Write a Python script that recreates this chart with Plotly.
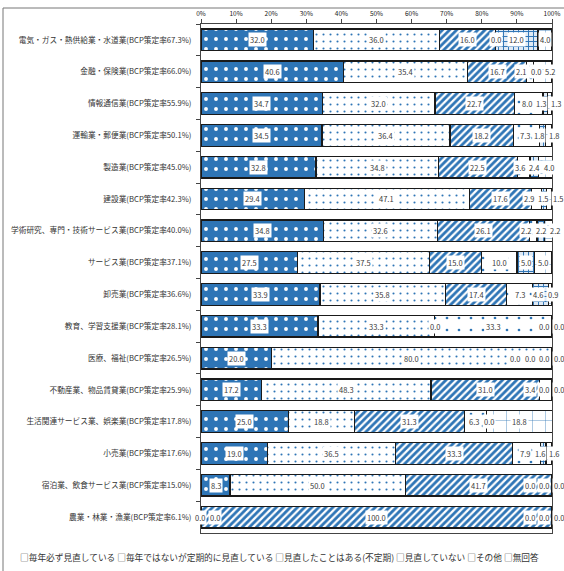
import plotly.graph_objects as go

# ---- data -------------------------------------------------------------
categories = [
    "電気・ガス・熱供給業・水道業(BCP策定率67.3%)",
    "金融・保険業(BCP策定率66.0%)",
    "情報通信業(BCP策定率55.9%)",
    "運輸業・郵便業(BCP策定率50.1%)",
    "製造業(BCP策定率45.0%)",
    "建設業(BCP策定率42.3%)",
    "学術研究、専門・技術サービス業(BCP策定率40.0%)",
    "サービス業(BCP策定率37.1%)",
    "卸売業(BCP策定率36.6%)",
    "教育、学習支援業(BCP策定率28.1%)",
    "医療、福祉(BCP策定率26.5%)",
    "不動産業、物品賃貸業(BCP策定率25.9%)",
    "生活関連サービス業、娯楽業(BCP策定率17.8%)",
    "小売業(BCP策定率17.6%)",
    "宿泊業、飲食サービス業(BCP策定率15.0%)",
    "農業・林業・漁業(BCP策定率6.1%)",
]

series_names = [
    "毎年必ず見直している",
    "毎年ではないが定期的に見直している",
    "見直したことはある(不定期)",
    "見直していない",
    "その他",
    "無回答",
]

every_year = [32.0, 40.6, 34.7, 34.5, 32.8, 29.4, 34.8, 27.5, 33.9, 33.3, 20.0, 17.2, 25.0, 19.0, 8.3, 0.0]
regularly = [36.0, 35.4, 32.0, 36.4, 34.8, 47.1, 32.6, 37.5, 35.8, 33.3, 80.0, 48.3, 18.8, 36.5, 50.0, 0.0]
irregular = [16.0, 16.7, 22.7, 18.2, 22.5, 17.6, 26.1, 15.0, 17.4, 0.0, 0.0, 31.0, 31.3, 33.3, 41.7, 100.0]
not_reviewed = [0.0, 2.1, 8.0, 7.3, 3.6, 2.9, 2.2, 10.0, 7.3, 33.3, 0.0, 3.4, 6.3, 7.9, 0.0, 0.0]
other = [12.0, 0.0, 1.3, 1.8, 2.4, 1.5, 2.2, 5.0, 4.6, 0.0, 0.0, 0.0, 0.0, 1.6, 0.0, 0.0]
no_answer = [4.0, 5.2, 1.3, 1.8, 4.0, 1.5, 2.2, 5.0, 0.9, 0.0, 0.0, 0.0, 18.8, 1.6, 0.0, 0.0]

x_ticks = [0, 10, 20, 30, 40, 50, 60, 70, 80, 90, 100]
x_tick_labels = [f"{t}%" for t in x_ticks]

series_values = [every_year, regularly, irregular, not_reviewed, other, no_answer]

# ---- styling ----------------------------------------------------------
BLUE = "#2E75B6"
FONT = "Noto Sans CJK JP"
W, H = 564, 571
L, R, T, B = 201, 12, 24, 38          # margins in px
PLOT_W = W - L - R
PLOT_H = H - T - B
X_MIN, X_MAX = 0, 100

patterns = [
    dict(shape=".", fgcolor="white", bgcolor=BLUE, size=10, solidity=0.12, fillmode="replace"),
    dict(shape=".", fgcolor=BLUE, bgcolor="white", size=7, solidity=0.07, fillmode="replace"),
    dict(shape="/", fgcolor=BLUE, bgcolor="white", size=5, solidity=0.55, fillmode="replace"),
    dict(shape=".", fgcolor=BLUE, bgcolor="white", size=12, solidity=0.04, fillmode="replace"),
    dict(shape="+", fgcolor=BLUE, bgcolor="#dfeaf5", size=5, solidity=0.35, fillmode="replace"),
    dict(shape="+", fgcolor=BLUE, bgcolor="white", size=13, solidity=0.06, fillmode="replace"),
]

fig = go.Figure()
for name, vals, pat in zip(series_names, series_values, patterns):
    fig.add_trace(go.Bar(
        y=categories, x=vals, name=name, orientation="h",
        marker=dict(color=pat["bgcolor"], pattern=pat,
                    line=dict(color="#1a1a1a", width=1.3)),
        hoverinfo="x+name",
        showlegend=False,
    ))


# ---- value labels (spread apart where they would collide) -------------
PX_PER_UNIT = PLOT_W / (X_MAX - X_MIN)


def label_width(text):
    return (4.3 * (len(text) - 1) + 2 + 3) / PX_PER_UNIT


def spread(anchors, widths, lo, hi, gap):
    pos = list(anchors)
    clusters = [[i] for i in range(len(anchors))]

    def place(cl):
        offs = [0.0]
        for a, b in zip(cl, cl[1:]):
            offs.append(offs[-1] + (widths[a] + widths[b]) / 2 + gap)
        mean_a = sum(anchors[i] for i in cl) / len(cl)
        start = mean_a - sum(offs) / len(offs)
        start = min(start, hi - offs[-1])
        start = max(start, lo)
        for i, o in zip(cl, offs):
            pos[i] = start + o

    for cl in clusters:
        place(cl)
    changed = True
    while changed:
        changed = False
        for k in range(len(clusters) - 1):
            a, b = clusters[k][-1], clusters[k + 1][0]
            if pos[b] - pos[a] < (widths[a] + widths[b]) / 2 + gap - 1e-9:
                clusters[k] = clusters[k] + clusters[k + 1]
                del clusters[k + 1]
                place(clusters[k])
                changed = True
                break
    return pos


def to_paper_x(x):
    # data value on the linear x axis -> paper fraction (labels may sit past 0/100)
    return (x - X_MIN) / (X_MAX - X_MIN)


annotations = []
for r, cat in enumerate(categories):
    vals = [s[r] for s in series_values]
    texts = [f"{v:.1f}" for v in vals]
    anchors, acc = [], 0.0
    for v in vals:
        anchors.append(acc + v / 2)
        acc += v
    widths = [label_width(t) for t in texts]
    xs = spread(anchors, widths, lo=-0.2, hi=102.0, gap=0.3)
    for t, x in zip(texts, xs):
        annotations.append(dict(
            x=to_paper_x(x), y=cat, xref="paper", yref="y", text=t, showarrow=False,
            font=dict(family=FONT, size=7.5, color="#3a3a3a"),
            bgcolor="white", borderpad=1, xanchor="center", yanchor="middle",
        ))


def px_x(px):
    return (px - L) / PLOT_W


def px_y(py):
    return (H - B - py) / PLOT_H


# legend line below the plot
legend_text = " ".join("□" + n for n in series_names)
annotations.append(dict(
    x=px_x(18), y=px_y(557), xref="paper", yref="paper", text=legend_text,
    showarrow=False, xanchor="left", yanchor="middle",
    font=dict(family=FONT, size=8.7, color="#333"),
))

# outer chart frame
shapes = [
    dict(type="line", xref="paper", yref="paper", x0=px_x(3), x1=px_x(W + 5),
         y0=px_y(8), y1=px_y(8), line=dict(color="#777", width=1)),
    dict(type="line", xref="paper", yref="paper", x0=px_x(3), x1=px_x(3),
         y0=px_y(8), y1=px_y(H + 5), line=dict(color="#777", width=1)),
]

fig.update_layout(
    width=W, height=H,
    margin=dict(l=L, r=R, t=T, b=B, autoexpand=False),
    barmode="stack", bargap=0.32,
    plot_bgcolor="white", paper_bgcolor="white",
    font=dict(family=FONT, color="#333"),
    annotations=annotations, shapes=shapes,
    xaxis=dict(
        side="top", range=[X_MIN, X_MAX], tickvals=x_ticks, ticktext=x_tick_labels,
        ticks="outside", ticklen=4, tickcolor="#444", showline=True,
        linecolor="#444", linewidth=1, mirror=True, showgrid=False,
        zeroline=False, tickfont=dict(family=FONT, size=6.5, color="#222"),
        automargin=False, fixedrange=True,
    ),
    yaxis=dict(
        type="category", autorange="reversed", ticks="outside",
        tickson="boundaries", ticklen=4, tickcolor="#444", showline=True,
        linecolor="#444", linewidth=1, mirror=True, showgrid=False,
        tickfont=dict(family=FONT, size=7.7, color="#333"),
        ticklabelstandoff=7, automargin=False, fixedrange=True,
    ),
)

fig.write_html("out.html")
